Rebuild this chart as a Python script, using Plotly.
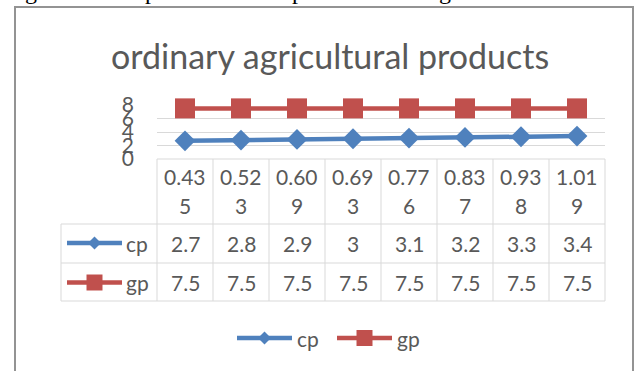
import plotly.graph_objects as go

# ---- data -------------------------------------------------------------
categories = ["0.435", "0.523", "0.609", "0.693", "0.776", "0.837", "0.938", "1.019"]
cp = [2.7, 2.8, 2.9, 3, 3.1, 3.2, 3.3, 3.4]
gp = [7.5, 7.5, 7.5, 7.5, 7.5, 7.5, 7.5, 7.5]
y_ticks = [0, 2, 4, 6, 8]
series_names = ["cp", "gp"]
title_text = "ordinary agricultural products"

# ---- styling ----------------------------------------------------------
W, H = 635, 371
BLUE = "#4F81BD"
RED = "#C0504D"
TXT = "#595959"
GRID = "#D9D9D9"
BORDER = "#939393"
FONT = "Lato"
FS = 21

# plot area (pixels)
PX0, PX1 = 157, 605
PY_TOP, PY_BOT = 105, 159

# table geometry (pixels)
TAB_LEFT = 61
ROW_LINES = [224, 263, 301]
HEAD_Y = [176, 205.5]
ROW_Y = [243, 282.5]

n = len(categories)
colw = (PX1 - PX0) / n


def col_center(i):
    return PX0 + (i + 0.5) * colw


def col_edge(i):
    return PX0 + i * colw


fig = go.Figure()

# ---- data series ------------------------------------------------------
fig.add_trace(go.Scatter(
    x=categories, y=cp, mode="lines+markers", name="cp",
    line=dict(color=BLUE, width=4.5),
    marker=dict(symbol="diamond", size=16, color=BLUE),
    cliponaxis=False, showlegend=False, hoverinfo="skip"))
fig.add_trace(go.Scatter(
    x=categories, y=gp, mode="lines+markers", name="gp",
    line=dict(color=RED, width=4.5),
    marker=dict(symbol="square", size=20, color=RED),
    cliponaxis=False, showlegend=False, hoverinfo="skip"))

shapes = []
annotations = []


def hline(y, x0, x1, color=GRID, width=1):
    shapes.append(dict(type="line", xref="x2", yref="y2", x0=x0, x1=x1, y0=y, y1=y,
                       line=dict(color=color, width=width)))


def vline(x, y0, y1, color=GRID, width=1):
    shapes.append(dict(type="line", xref="x2", yref="y2", x0=x, x1=x, y0=y0, y1=y1,
                       line=dict(color=color, width=width)))


def label(x, y, text, size=FS, color=TXT, xanchor="center", family=FONT, yanchor="middle"):
    annotations.append(dict(xref="x2", yref="y2", x=x, y=y, text=text, showarrow=False,
                            xanchor=xanchor, yanchor=yanchor,
                            font=dict(family=family, size=size, color=color)))


# ---- outer frame ------------------------------------------------------
shapes.append(dict(type="rect", xref="x2", yref="y2", x0=15, x1=633, y0=7, y1=400,
                   line=dict(color=BORDER, width=2), fillcolor="rgba(0,0,0,0)"))

# descenders of the text line above the frame
for ch, xc in zip(["g", "p", "p", "g"], [31, 151, 298, 445]):
    label(xc, 6, ch, size=24, color="#000000", family="Liberation Serif", yanchor="bottom")

# ---- title ------------------------------------------------------------
label(330, 55, title_text, size=34)

# ---- data table -------------------------------------------------------
hline(PY_BOT, PX0, PX1)
for yl in ROW_LINES:
    hline(yl, TAB_LEFT, PX1)
vline(TAB_LEFT, ROW_LINES[0], ROW_LINES[-1])
for i in range(n + 1):
    vline(col_edge(i), PY_BOT, ROW_LINES[-1])

for i, cat in enumerate(categories):
    label(col_center(i), HEAD_Y[0], cat[:4])
    label(col_center(i), HEAD_Y[1], cat[4:])
    label(col_center(i), ROW_Y[0], f"{cp[i]:g}")
    label(col_center(i), ROW_Y[1], f"{gp[i]:g}")


def key(x0, x1, y, color, symbol, msize, name, text_x):
    fig.add_trace(go.Scatter(x=[x0, x1], y=[y, y], mode="lines", xaxis="x2", yaxis="y2",
                             line=dict(color=color, width=4.5), showlegend=False,
                             hoverinfo="skip"))
    fig.add_trace(go.Scatter(x=[(x0 + x1) / 2], y=[y], mode="markers", xaxis="x2", yaxis="y2",
                             marker=dict(symbol=symbol, size=msize, color=color),
                             showlegend=False, hoverinfo="skip"))
    label(text_x, y, name, xanchor="left")


# keys inside the table
key(67, 122, ROW_Y[0], BLUE, "diamond", 10, series_names[0], 124)
key(67, 122, ROW_Y[1], RED, "square", 16, series_names[1], 124)

# legend below the table
key(237, 292, 338, BLUE, "diamond", 10, series_names[0], 295)
key(337, 392, 338, RED, "square", 16, series_names[1], 395)

fig.update_layout(
    width=W, height=H,
    margin=dict(l=0, r=0, t=0, b=0, autoexpand=False),
    paper_bgcolor="white", plot_bgcolor="rgba(0,0,0,0)",
    showlegend=False,
    shapes=shapes, annotations=annotations,
    xaxis=dict(domain=[PX0 / W, PX1 / W], type="category", range=[-0.5, n - 0.5],
               showticklabels=False, showgrid=False, zeroline=False, showline=False,
               ticks="", automargin=False),
    yaxis=dict(domain=[1 - PY_BOT / H, 1 - PY_TOP / H], range=[0, 8],
               tickmode="array", tickvals=y_ticks, ticks="", ticklabelstandoff=22,
               showgrid=True, gridcolor=GRID, gridwidth=1, zeroline=False, showline=False,
               tickfont=dict(family=FONT, size=FS, color=TXT), automargin=False),
    xaxis2=dict(domain=[0, 1], range=[0, W], visible=False, fixedrange=True,
                automargin=False),
    yaxis2=dict(domain=[0, 1], range=[H, 0], visible=False, fixedrange=True,
                automargin=False),
)

fig.write_html("out.html")
